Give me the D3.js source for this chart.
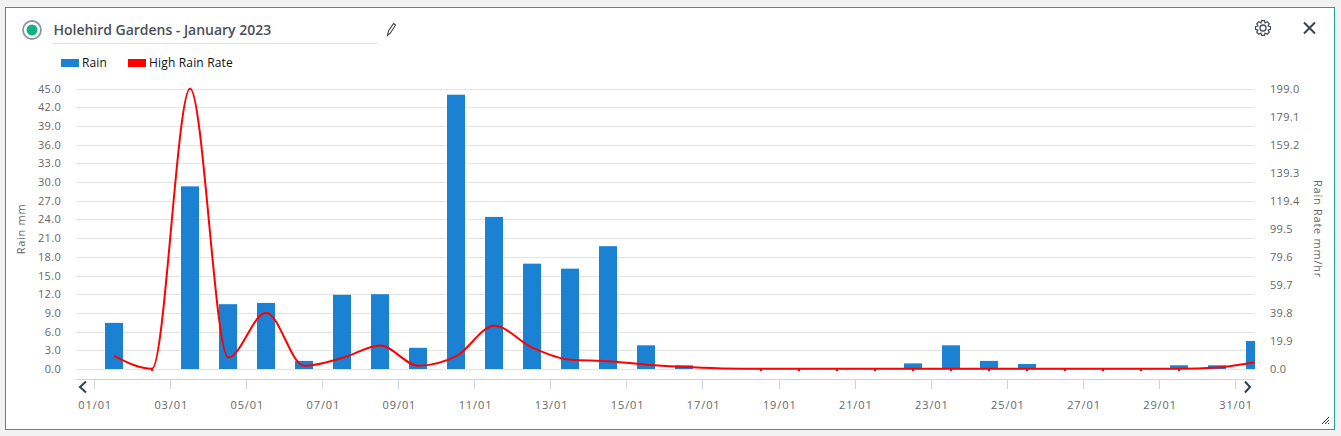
<!DOCTYPE html>
<html><head><meta charset="utf-8">
<script src="https://cdn.jsdelivr.net/npm/d3@7"></script>
<style>
html,body{margin:0;padding:0;background:#f2f2f2;overflow:hidden}
svg{display:block}
text{font-family:"Open Sans",sans-serif}
</style></head><body>
<svg id="c" width="1341" height="436"></svg>
<script>
const chartTitle = "Holehird Gardens - January 2023";
const days = d3.range(1,32).map(d=>String(d).padStart(2,"0")+"/01");
const rain = [7.4,0,29.3,10.4,10.6,1.3,11.9,12.0,3.4,44.0,24.4,16.9,16.1,19.7,3.8,0.6,0,0,0,0,0,0.9,3.8,1.3,0.8,0,0,0,0.6,0.6,4.5];
const rate = [9.2,0,198.9,8,39.8,2.1,7.6,16.5,2.2,9,30.5,15,6.4,5.4,2.9,1.2,0.3,0,0,0,0,0,0,0,0,0,0,0,0,0.9,4.7];
const leftTicks = d3.range(0,46,3);
const rightTicks = [0,19.9,39.8,59.7,79.6,99.5,119.4,139.3,159.2,179.1,199.0];

const svg = d3.select("#c");
svg.append("rect").attr("x",5.5).attr("y",7.5).attr("width",1329).attr("height",422)
  .attr("fill","#fff").attr("stroke","#1fa588");

const x = d3.scaleBand().domain(days).range([94.5,94.5+38.03*31]);
const yL = d3.scaleLinear().domain([0,45]).range([369,88.5]);
const yR = d3.scaleLinear().domain([0,199]).range([369,88.5]);

svg.append("defs").append("clipPath").attr("id","plot").append("rect")
  .attr("x",76).attr("y",70).attr("width",1179).attr("height",320);

// grid
svg.append("g").selectAll("line").data(leftTicks).join("line")
  .attr("x1",76).attr("x2",1255)
  .attr("y1",d=>Math.round(yL(d))+.5).attr("y2",d=>Math.round(yL(d))+.5)
  .attr("stroke","#e4e4e4");

const tickFill="#666";
svg.append("g").selectAll("text").data(leftTicks).join("text")
  .attr("x",61).attr("y",d=>yL(d)+4).attr("text-anchor","end")
  .attr("font-size",11).attr("letter-spacing",.3).attr("fill",tickFill).text(d=>d.toFixed(1));
svg.append("g").selectAll("text").data(rightTicks).join("text")
  .attr("x",1270).attr("y",d=>yR(d)+4)
  .attr("font-size",11).attr("letter-spacing",.3).attr("fill",tickFill).text(d=>d.toFixed(1));

// bottom axis
const shown = days.filter((d,i)=>i%2===0);
svg.append("line").attr("x1",76).attr("x2",1255).attr("y1",379.5).attr("y2",379.5).attr("stroke","#c9d3e4");
svg.append("g").selectAll("line").data(shown).join("line")
  .attr("x1",d=>Math.floor(x(d))+.5).attr("x2",d=>Math.floor(x(d))+.5).attr("y1",380).attr("y2",389).attr("stroke","#c9d3e4");
svg.append("g").selectAll("text").data(shown).join("text")
  .attr("x",d=>x(d)+.7).attr("y",409).attr("text-anchor","middle")
  .attr("font-size",11).attr("letter-spacing",.9).attr("fill",tickFill).text(d=>d);

const plot = svg.append("g").attr("clip-path","url(#plot)");
const cx = d=>x(d)+x.bandwidth()/2+.5;
plot.selectAll("rect.bar").data(days.map((d,i)=>({d,v:rain[i]})).filter(o=>o.v>0)).join("rect")
  .attr("class","bar")
  .attr("x",o=>Math.round(cx(o.d)-9)).attr("width",18)
  .attr("y",o=>yL(o.v)).attr("height",o=>369-yL(o.v)).attr("fill","#1b82d3");
const line = d3.line().curve(d3.curveMonotoneX).x((v,i)=>cx(days[i])).y(v=>yR(v)-.2);
plot.append("path").attr("d",line(rate)).attr("fill","none").attr("stroke","#ff0000").attr("stroke-width",2);
// small point markers, visible only where the line runs along zero
plot.selectAll("rect.pt").data(days.map((d,i)=>({d,v:rate[i]})).filter(o=>o.v===0)).join("rect")
  .attr("class","pt")
  .attr("x",o=>Math.round(cx(o.d))-1).attr("width",2)
  .attr("y",o=>Math.round(yR(o.v))).attr("height",2).attr("fill","#ff0000");

// arrows
const chev=(pts)=>svg.append("polyline").attr("points",pts).attr("fill","none").attr("stroke","#333f4d").attr("stroke-width",2);
chev("86,381.5 80,387 86,392.5");
chev("1245,381.5 1250,387 1245,392.5");

// axis titles
svg.append("text").attr("transform","translate(25,229) rotate(-90)").attr("text-anchor","middle")
  .attr("font-size",11).attr("letter-spacing",.7).attr("fill",tickFill).text("Rain mm");
svg.append("text").attr("transform","translate(1313.5,229) rotate(90)").attr("text-anchor","middle")
  .attr("font-size",11).attr("letter-spacing",.75).attr("fill",tickFill).text("Rain Rate mm/hr");

// legend
svg.append("rect").attr("x",61).attr("y",59).attr("width",18).attr("height",8).attr("fill","#1b82d3");
svg.append("text").attr("x",82).attr("y",66.5).attr("font-size",12).attr("letter-spacing",.15).attr("fill","#111").text("Rain");
svg.append("rect").attr("x",128).attr("y",59).attr("width",18).attr("height",8).attr("fill","#ff0000");
svg.append("text").attr("x",149).attr("y",66.5).attr("font-size",12).attr("letter-spacing",.17).attr("fill","#111").text("High Rain Rate");

// header
svg.append("circle").attr("cx",32).attr("cy",30).attr("r",9).attr("fill","none").attr("stroke","#8d979c").attr("stroke-width",1.8);
svg.append("circle").attr("cx",32).attr("cy",30).attr("r",5.5).attr("fill","#0fb08a");
svg.append("text").attr("x",53.5).attr("y",35).attr("font-size",14).attr("font-weight",600).attr("letter-spacing",-.02).attr("fill","#4a4f57").text(chartTitle);
svg.append("line").attr("x1",53).attr("x2",378).attr("y1",43.5).attr("y2",43.5).attr("stroke","#e2e2e2");
// pencil
svg.append("path").attr("d","M387.5,35.5 L388.5,31 L393.5,23.5 L395.5,25 L390.5,33 Z").attr("fill","none").attr("stroke","#444").attr("stroke-width",1.1);
// gear
const gear=svg.append("g").attr("transform","translate(1263,28)");
gear.append("circle").attr("r",3).attr("fill","none").attr("stroke","#3e4650").attr("stroke-width",1.3);
gear.append("path").attr("d",d3.range(8).map(i=>{const a=i*Math.PI/4,b=Math.PI/10;
  const P=(r,t)=>[(r*Math.cos(t)).toFixed(2),(r*Math.sin(t)).toFixed(2)].join(",");
  return (i?"L":"M")+P(5.5,a-b*1.25)+"L"+P(7.6,a-b*.6)+"L"+P(7.6,a+b*.6)+"L"+P(5.5,a+b*1.25);}).join("")+"Z")
  .attr("fill","none").attr("stroke","#3e4650").attr("stroke-width",1.2);
// close
svg.append("path").attr("d","M1304,22.5 L1315,33.5 M1315,22.5 L1304,33.5").attr("stroke","#3a4450").attr("stroke-width",2);
// resize grip
svg.append("path").attr("d","M1322,424 L1329,417 M1325,424 L1329,420 M1328,424 L1329,423").attr("stroke","#333").attr("stroke-width",1);
</script>
</body></html>
